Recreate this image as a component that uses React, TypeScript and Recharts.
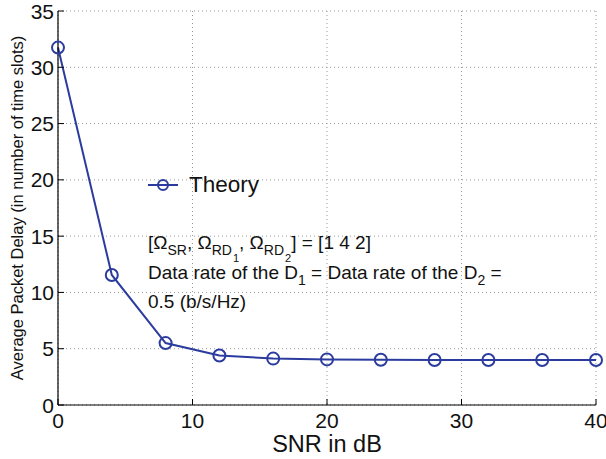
import { LineChart, Line, XAxis, YAxis, CartesianGrid } from 'recharts';

const snr = [0, 4, 8, 12, 16, 20, 24, 28, 32, 36, 40];
const delay = [31.75, 11.55, 5.5, 4.4, 4.12, 4.05, 4.02, 4.0, 4.0, 4.0, 4.0];
const xTicks = [0, 10, 20, 30, 40];
const yTicks = [0, 5, 10, 15, 20, 25, 30, 35];

const data = snr.map((s, i) => ({ snr: s, delay: delay[i] }));

const blue = '#2b3c9e';
const font = 'Liberation Sans, Arial, Helvetica, sans-serif';

function BottomTick(props: any) {
  const { x, y, payload } = props;
  return (
    <g>
      <line x1={x} x2={x} y1={y} y2={y - 6} stroke="#000" strokeWidth={1} />
      <text x={x} y={y + 8} dy="0.72em" textAnchor="middle" fontSize={21} fill="#111" fontFamily={font}>
        {payload.value}
      </text>
    </g>
  );
}

function LeftTick(props: any) {
  const { x, y, payload } = props;
  return (
    <g>
      <line x1={x} x2={x + 6} y1={y} y2={y} stroke="#000" strokeWidth={1} />
      <text x={x - 4} y={y} dy="0.36em" textAnchor="end" fontSize={21} fill="#111" fontFamily={font}>
        {payload.value}
      </text>
    </g>
  );
}

function TopTick(props: any) {
  const { x, y } = props;
  return <line x1={x} x2={x} y1={y} y2={y + 6} stroke="#000" strokeWidth={1} />;
}

function RightTick(props: any) {
  const { x, y } = props;
  return <line x1={x} x2={x - 6} y1={y} y2={y} stroke="#000" strokeWidth={1} />;
}

function LegendBox() {
  return (
    <div style={{ position: 'absolute', left: 147, top: 172, display: 'flex', alignItems: 'center', fontFamily: font }}>
      <svg width={32} height={14}>
        <line x1={1} x2={31} y1={7} y2={7} stroke={blue} strokeWidth={2} />
        <circle cx={16} cy={7} r={5} stroke={blue} strokeWidth={2} fill="none" />
      </svg>
      <span style={{ fontSize: 22.5, color: '#111', marginLeft: 10 }}>Theory</span>
    </div>
  );
}

const sub: React.CSSProperties = { fontSize: 14, position: 'relative', top: 6 };
const sub2: React.CSSProperties = { fontSize: 11, position: 'relative', top: 13, marginLeft: 1 };

export default function App() {
  return (
    <div style={{ position: 'relative', width: 606, height: 459, background: '#fff' }}>
      <style>{`body{margin:0}`}</style>
      <LineChart width={606} height={459} data={data} margin={{ top: 11, right: 10, bottom: 0, left: 0 }}>
        <CartesianGrid stroke="#9a9a9a" strokeDasharray="1 3" />
        <XAxis
          dataKey="snr"
          type="number"
          domain={[0, 40]}
          ticks={xTicks}
          height={54}
          tickSize={0}
          tickMargin={0}
          tick={<BottomTick />}
          axisLine={{ stroke: '#000', strokeWidth: 1.2 }}
          label={{
            content: (p: any) => (
              <text
                x={p.viewBox.x + p.viewBox.width / 2}
                y={p.viewBox.y + 47}
                textAnchor="middle"
                fontSize={23.5}
                fill="#111"
                fontFamily={font}
              >
                SNR in dB
              </text>
            ),
          }}
        />
        <XAxis
          xAxisId="top"
          dataKey="snr"
          type="number"
          orientation="top"
          domain={[0, 40]}
          ticks={xTicks}
          height={0}
          tickSize={0}
          tickMargin={0}
          tick={<TopTick />}
          axisLine={{ stroke: '#000', strokeWidth: 1.2 }}
        />
        <YAxis
          type="number"
          domain={[0, 35]}
          ticks={yTicks}
          width={58}
          tickSize={0}
          tickMargin={0}
          tick={<LeftTick />}
          axisLine={{ stroke: '#000', strokeWidth: 1.2 }}
          label={{
            content: (p: any) => {
              const cx = p.viewBox.x + 17;
              const cy = p.viewBox.y + p.viewBox.height / 2;
              return (
                <text
                  x={cx}
                  y={cy}
                  transform={`rotate(-90 ${cx} ${cy})`}
                  textAnchor="middle"
                  dominantBaseline="central"
                  fontSize={16.5}
                  fill="#111"
                  fontFamily={font}
                >
                  Average Packet Delay (in number of time slots)
                </text>
              );
            },
          }}
        />
        <YAxis
          yAxisId="right"
          orientation="right"
          type="number"
          domain={[0, 35]}
          ticks={yTicks}
          width={0}
          tickSize={0}
          tickMargin={0}
          tick={<RightTick />}
          axisLine={{ stroke: '#000', strokeWidth: 1.2 }}
        />
        <Line
          type="linear"
          dataKey="delay"
          name="Theory"
          stroke={blue}
          strokeWidth={2}
          dot={{ r: 6, stroke: blue, strokeWidth: 2, fill: 'none' }}
          isAnimationActive={false}
        />
      </LineChart>
      <LegendBox />
      <div
        style={{
          position: 'absolute',
          left: 148,
          top: 229,
          fontFamily: font,
          fontSize: 19,
          color: '#111',
          lineHeight: '28px',
          whiteSpace: 'nowrap',
        }}
      >
        <div>
          [Ω<span style={sub}>SR</span>, Ω<span style={sub}>RD</span>
          <span style={sub2}>1</span>, Ω<span style={sub}>RD</span>
          <span style={sub2}>2</span>] = [1 4 2]
        </div>
        <div>
          Data rate of the D<span style={sub}>1</span> = Data rate of the D<span style={sub}>2</span> =
        </div>
        <div>0.5 (b/s/Hz)</div>
      </div>
    </div>
  );
}
